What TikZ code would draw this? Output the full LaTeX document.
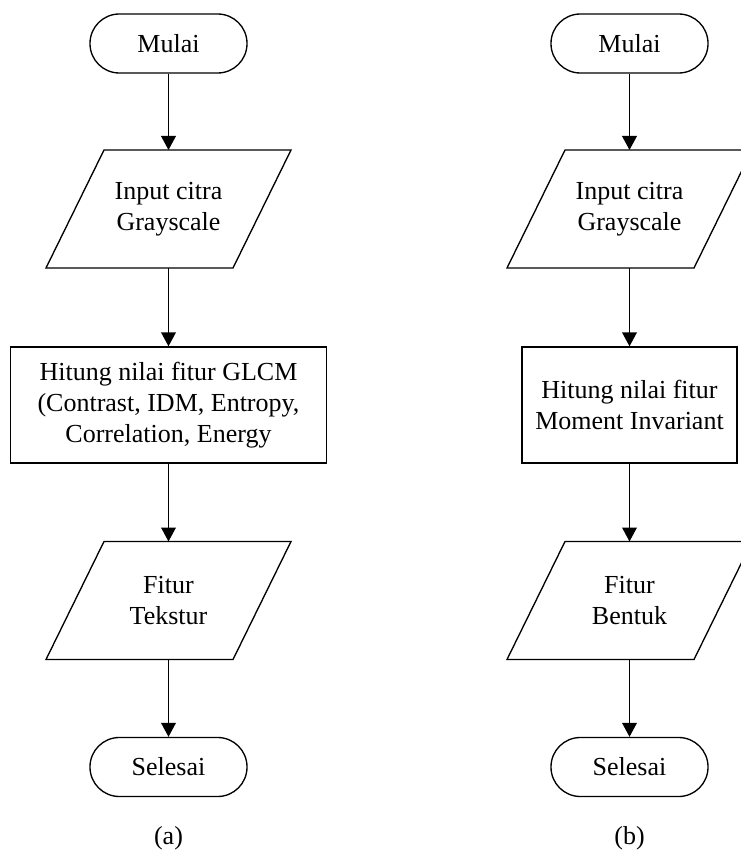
\documentclass[tikz,border=0pt]{standalone}
\usepackage{fontspec}
\setmainfont{Liberation Serif}
\usepackage{tikz}
\usetikzlibrary{arrows.meta,positioning,calc}
\newcommand{\flowfont}{\fontsize{19.5}{23.25}\selectfont}

\begin{document}
\begin{tikzpicture}[
    x=0.75pt, y=-0.75pt,
    term/.style={draw, line width=1pt, rounded corners=22pt, minimum width=117.75pt, minimum height=44.25pt, font=\flowfont},
    io/.style={outer sep=0pt, minimum width=140.25pt, minimum height=88.5pt, align=center, font=\flowfont},
    proc/.style={draw, line width=1pt, minimum height=87pt, align=center, font=\flowfont},
    caption/.style={font=\flowfont},
    >={Triangle[length=10.5pt,width=11pt]}
  ]
  \useasboundingbox (0,0) rectangle (741,852);

  % Flowchart (a)
  \node[term] (starta) at (168.5, 43.5) {Mulai};
  \node[io] (inputa) at (168.5, 209) {Input citra\\Grayscale};
  \node[proc, minimum width=237pt] (hitunga) at (168.5, 405) {Hitung nilai fitur GLCM\\(Contrast, IDM, Entropy,\\Correlation, Energy};
  \node[io] (fitura) at (168.5, 600.5) {Fitur\\Tekstur};
  \node[term] (selesaia) at (168.5, 767) {Selesai};
  \node[caption] (capa) at (168.5, 838) {(a)};

  % Flowchart (b)
  \node[term] (startb) at (629.5, 43.5) {Mulai};
  \node[io] (inputb) at (629.5, 209) {Input citra\\Grayscale};
  \node[proc, minimum width=161.25pt] (hitungb) at (629.5, 405) {Hitung nilai fitur\\Moment Invariant};
  \node[io] (fiturb) at (629.5, 600.5) {Fitur\\Bentuk};
  \node[term] (selesaib) at (629.5, 767) {Selesai};
  \node[caption] (capb) at (629.5, 838) {(b)};

  % Parallelograms
  \foreach \n in {inputa,fitura,inputb,fiturb} {
    \draw[line width=1pt] ($(\n.north west)+(29,0)$) -- ($(\n.north east)+(29,0)$)
      -- ($(\n.south east)+(-29,0)$) -- ($(\n.south west)+(-29,0)$) -- cycle;
  }

  % Edges
  \foreach \c in {a,b} {
    \draw[->, line width=1.2pt] (start\c) -- (input\c);
    \draw[->, line width=1.2pt] (input\c) -- (hitung\c);
    \draw[->, line width=1.2pt] (hitung\c) -- (fitur\c);
    \draw[->, line width=1.2pt] (fitur\c) -- (selesai\c);
  }
\end{tikzpicture}
\end{document}
